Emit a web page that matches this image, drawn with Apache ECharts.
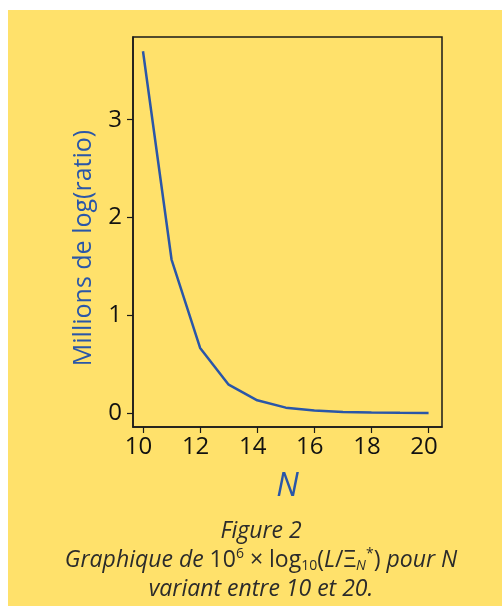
<!DOCTYPE html>
<html>
<head>
<meta charset="utf-8">
<script src="https://cdn.jsdelivr.net/npm/echarts@6/dist/echarts.min.js"></script>
<style>
  html, body { margin: 0; padding: 0; background: #ffffff; }
  #bg { position: absolute; left: 8px; top: 10px; right: 0; bottom: 0; background: #ffe16b; }
  #chart { position: absolute; left: 0; top: 0; width: 502px; height: 606px; }
</style>
</head>
<body>
<div id="bg"></div>
<div id="chart"></div>
<script>
// N (x) and 10^6 * log10 ratio, in millions (y)
var nValues = [10, 11, 12, 13, 14, 15, 16, 17, 18, 19, 20];
var ratioMillions = [3.70, 1.57, 0.666, 0.29, 0.13, 0.055, 0.025, 0.011, 0.005, 0.002, 0.001];
var xTicks = [10, 12, 14, 16, 18, 20];
var yTicks = [0, 1, 2, 3];

var points = [];
for (var i = 0; i < nValues.length; i++) {
    points.push([nValues[i], ratioMillions[i]]);
}

var blue = '#2a56a8';
var axisFont = 'Open Sans';
var capColor = '#2b2b2b';

var chart = echarts.init(document.getElementById('chart'), null, { renderer: 'canvas' });

var option = {
    backgroundColor: 'transparent',
    animation: false,
    grid: {
        left: 133, top: 37, right: 60, bottom: 179,
        show: true,
        borderColor: '#1a1a1a',
        borderWidth: 1.5
    },
    xAxis: {
        type: 'value',
        min: 9.65,
        max: 20.47,
        splitLine: { show: false },
        axisLine: { show: true, onZero: false, lineStyle: { color: '#1a1a1a', width: 1.5 } },
        axisTick: { show: true, length: 6, customValues: xTicks, lineStyle: { color: '#1a1a1a', width: 1.2 } },
        axisLabel: {
            customValues: xTicks,
            margin: 8,
            padding: [0, 9, 0, 0],
            color: '#111',
            fontFamily: axisFont,
            fontSize: 24
        },
        name: 'N',
        nameLocation: 'middle',
        nameGap: 44,
        nameTextStyle: { color: blue, fontStyle: 'italic', fontSize: 32, fontFamily: axisFont }
    },
    yAxis: {
        type: 'value',
        min: -0.143,
        max: 3.846,
        splitLine: { show: false },
        axisLine: { show: true, onZero: false, lineStyle: { color: '#1a1a1a', width: 1.5 } },
        axisTick: { show: true, length: 6, customValues: yTicks, lineStyle: { color: '#1a1a1a', width: 1.2 } },
        axisLabel: {
            customValues: yTicks,
            margin: 11,
            color: '#111',
            fontFamily: axisFont,
            fontSize: 24
        }
    },
    graphic: [{
        type: 'text',
        x: 84,
        y: 248,
        rotation: Math.PI / 2,
        style: {
            text: 'Millions de log(ratio)',
            fill: blue,
            font: '25px "Open Sans"',
            textAlign: 'center',
            textVerticalAlign: 'middle'
        }
    }],
    title: {
        left: 256,
        top: 512,
        textAlign: 'center',
        text: '{it|Figure 2}\n' +
              '{it|Graphique de }{n|10}{sup|6}{n| × log}{sub|10}{n|(}{it|L}{n|/Ξ}{subit|N}{sup|*}{n|)}{it| pour N}\n' +
              '{it|variant entre 10 et 20.}',
        textStyle: {
            fontWeight: 'normal',
            rich: {
                it: { fontStyle: 'italic', fontWeight: 'normal', fontSize: 23, color: capColor, fontFamily: axisFont, lineHeight: 29 },
                n: { fontWeight: 'normal', fontSize: 23, color: capColor, fontFamily: axisFont, lineHeight: 29 },
                sup: { fontWeight: 'normal', fontSize: 14, color: capColor, fontFamily: axisFont, padding: [0, 0, 13, 0] },
                sub: { fontWeight: 'normal', fontSize: 14, color: capColor, fontFamily: axisFont, padding: [11, 0, 0, 0] },
                subit: { fontWeight: 'normal', fontSize: 14, fontStyle: 'italic', color: capColor, fontFamily: axisFont, padding: [11, 0, 0, 0] }
            }
        }
    },
    series: [{
        type: 'line',
        data: points,
        showSymbol: false,
        smooth: false,
        lineStyle: { color: blue, width: 2.5 }
    }]
};

chart.setOption(option);
</script>
</body>
</html>
